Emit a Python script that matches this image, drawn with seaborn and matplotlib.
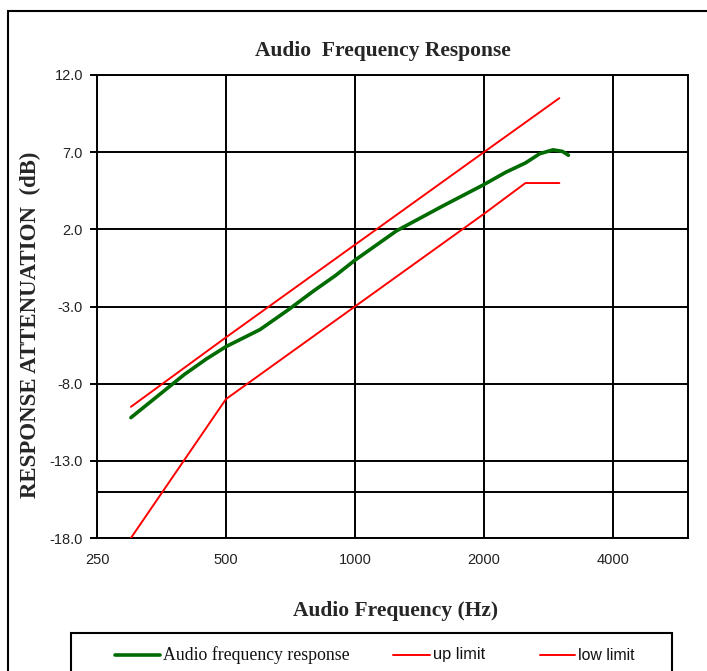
import numpy as np
import pandas as pd
import seaborn as sns
import matplotlib.pyplot as plt
from matplotlib.patches import Rectangle
from matplotlib.ticker import FixedLocator, FixedFormatter, FormatStrFormatter

# values
resp_freq = [300, 350, 400, 450, 500, 600, 700, 800, 900, 1000, 1250, 1600, 2000, 2250, 2500, 2700, 2900, 3050, 3150]
resp_db = [-10.2, -8.7, -7.4, -6.4, -5.6, -4.5, -3.2, -2.0, -1.0, 0.0, 1.9, 3.5, 4.9, 5.7, 6.3, 6.9, 7.15, 7.05, 6.8]

up_freq = [300, 500, 1000, 2000, 3000]
up_db = [-9.5, -5.0, 1.0, 7.0, 10.5]

low_freq = [300, 500, 1000, 2000, 2500, 3000]
low_db = [-18.0, -9.0, -3.0, 3.0, 5.0, 5.0]

ref_level = -15.0  # extra horizontal line in the chart

x_ticks = [250, 500, 1000, 2000, 4000]
x_ticklabels = ['250', '500', '1000', '2000', '4000']
y_ticks = [-18.0, -13.0, -8.0, -3.0, 2.0, 7.0, 12.0]

sns.set_style('white')
plt.rcParams['font.family'] = ['Liberation Sans', 'DejaVu Sans']
plt.rcParams['axes.unicode_minus'] = False

df = pd.concat([
    pd.DataFrame({'freq': resp_freq, 'db': resp_db, 'series': 'Audio frequency response'}),
    pd.DataFrame({'freq': up_freq, 'db': up_db, 'series': 'up limit'}),
    pd.DataFrame({'freq': low_freq, 'db': low_db, 'series': 'low limit'}),
])

W, H = 707, 671
fig = plt.figure(figsize=(W / 100, H / 100), dpi=100)
ax = fig.add_axes([97 / W, 1 - 538 / H, (688 - 97) / W, (538 - 75) / H])

palette = {'Audio frequency response': '#006b00', 'up limit': '#ff0000', 'low limit': '#ff0000'}
sns.lineplot(data=df, x='freq', y='db', hue='series', palette=palette, sort=False,
             estimator=None, ax=ax, legend=False)
for line, lw in zip(ax.lines, [2.6, 1.4, 1.4]):
    line.set_linewidth(lw)
    line.set_zorder(5)

ax.set_xscale('log', base=2)
ax.set_xlim(250, 5990)
ax.set_ylim(-18, 12)
ax.xaxis.set_major_locator(FixedLocator(x_ticks))
ax.xaxis.set_major_formatter(FixedFormatter(x_ticklabels))
ax.xaxis.set_minor_locator(FixedLocator([]))
ax.set_yticks(y_ticks)
ax.yaxis.set_major_formatter(FormatStrFormatter('%.1f'))

ax.grid(True, color='black', linewidth=1.4)
ax.axhline(ref_level, color='black', linewidth=1.4, zorder=1)
for s in ax.spines.values():
    s.set_color('black')
    s.set_linewidth(1.4)

ax.tick_params(axis='y', length=5, width=1.4, color='black', pad=5, labelsize=10.5, labelcolor='#222222', direction='out', left=True)
ax.tick_params(axis='x', length=0, pad=11, labelsize=10.5, labelcolor='#222222')

serif = ['Liberation Serif', 'DejaVu Serif']
ax.set_xlabel('')
ax.set_ylabel('')
fig.text(383 / W, 1 - 51 / H, 'Audio  Frequency Response', family=serif, weight='bold',
         fontsize=15.5, ha='center', va='center')
fig.text(396 / W, 1 - 611 / H, 'Audio Frequency (Hz)', family=serif, weight='bold',
         fontsize=15.5, ha='center', va='center')
fig.text(30 / W, 1 - 325 / H, 'RESPONSE ATTENUATION  (dB)', family=serif, weight='bold',
         fontsize=16.5, ha='center', va='center', rotation=90)

# outer frame and legend box
fig.patches.append(Rectangle((8 / W, -0.1), 1.2, 1 - 11 / H + 0.1, transform=fig.transFigure,
                             fill=False, edgecolor='black', linewidth=1.5))
fig.patches.append(Rectangle((71 / W, -0.1), (672 - 71) / W, 1 - 633 / H + 0.1, transform=fig.transFigure,
                             fill=False, edgecolor='black', linewidth=1.5))

# legend: handle + text, drawn in figure coordinates
leg_y = 1 - 655 / H
entries = [('Audio frequency response', '#006b00', 2.6, 115, 160, serif, 12.8),
           ('up limit', '#ff0000', 1.4, 393, 430, ['Liberation Sans'], 11.8),
           ('low limit', '#ff0000', 1.4, 540, 575, ['Liberation Sans'], 11.4)]
for label, c, lw, x0, x1, fam, fs in entries:
    fig.add_artist(plt.Line2D([x0 / W, x1 / W], [leg_y, leg_y], color=c, linewidth=lw,
                              transform=fig.transFigure))
    fig.text((x1 + 3) / W, leg_y, label, family=fam, fontsize=fs,
             ha='left', va='center', color='#111111')

fig.savefig('out.png', dpi=100, facecolor='white')
